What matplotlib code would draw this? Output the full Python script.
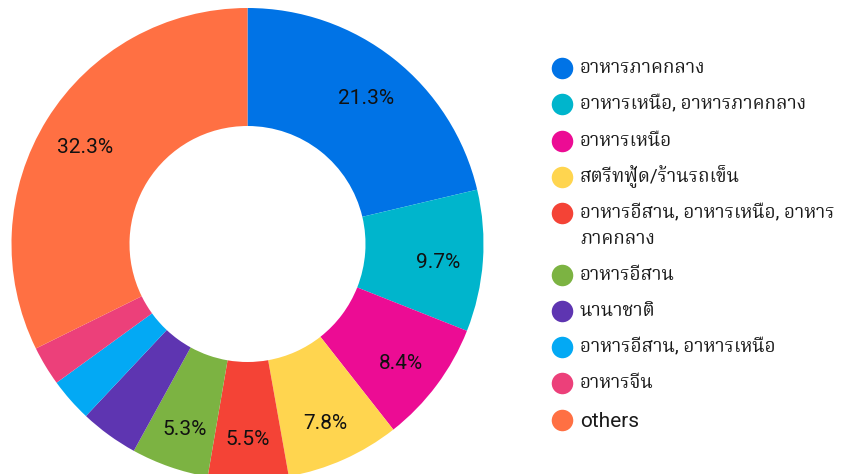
import matplotlib
matplotlib.use("Agg")
import matplotlib.pyplot as plt
from matplotlib.lines import Line2D

categories = ["อาหารภาคกลาง", "อาหารเหนือ, อาหารภาคกลาง", "อาหารเหนือ",
              "สตรีทฟู้ด/ร้านรถเข็น", "อาหารอีสาน, อาหารเหนือ, อาหาร\nภาคกลาง",
              "อาหารอีสาน", "นานาชาติ", "อาหารอีสาน, อาหารเหนือ", "อาหารจีน", "others"]
values = [21.3, 9.7, 8.4, 7.8, 5.5, 5.3, 4.0, 3.0, 2.7, 32.3]
colors = ["#0073E6", "#00B5CC", "#EC0C94", "#FFD54F", "#F44336",
          "#7CB342", "#5E35B1", "#03A9F4", "#EC407A", "#FF7043"]

W, H = 843, 474
fig = plt.figure(figsize=(W / 100, H / 100), dpi=100)

cx, cy, R = 247.5, 244, 236
ax = fig.add_axes([(cx - R) / W, (H - cy - R) / H, 2 * R / W, 2 * R / H])
wedges, texts, autotexts = ax.pie(
    values, colors=colors, startangle=90, counterclock=False,
    wedgeprops=dict(width=0.5, linewidth=0),
    autopct=lambda p: f"{p:.1f}%" if p > 5 else "",
    pctdistance=0.81, textprops=dict(fontsize=15, family="Roboto", color="#111111"))
for t in autotexts:
    x, y = t.get_position()
    t.set_position((x, y - 0.02))
ax.set_xlim(-1, 1)
ax.set_ylim(-1, 1)
ax.set_aspect("equal")
ax.axis("off")

# legend
thai_font = ["Roboto", "Noto Serif Thai", "DejaVu Sans"]
y = 68
for cat, col in zip(categories, colors):
    fig.add_artist(Line2D([562 / W], [1 - y / H], marker="o", markersize=15.5,
                          markerfacecolor=col, markeredgewidth=0, linestyle="none"))
    lines = cat.split("\n")
    is_latin = all(ord(c) < 128 for c in cat)
    for j, line in enumerate(lines):
        fig.text(580 / W, 1 - (y + 26 * j + (2 if is_latin else 0)) / H, line,
                 fontsize=15 if is_latin else 13.6, family=thai_font,
                 va="center", ha="left", color="#1a1a1a")
    y += 36.3 + 25 * (len(lines) - 1)

fig.savefig("out.png", dpi=100)
